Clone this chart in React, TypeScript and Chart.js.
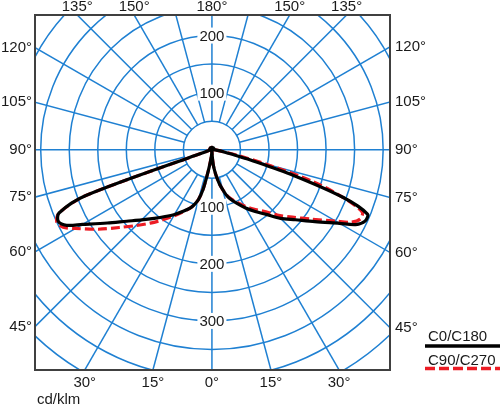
import React, { useEffect, useRef } from 'react';
import { Chart, registerables } from 'chart.js';

Chart.register(...registerables);

// Polar angles (gamma, degrees from nadir)
const ANGLES = [0, 2.5, 5, 7.5, 10, 12.5, 15, 17.5, 20, 25, 30, 35, 40, 45, 50, 55, 60, 62.5, 65, 67.5, 70, 72.5, 75, 77.5, 80, 85, 90, 105, 120, 135, 150, 165, 180];

// Luminous intensity, cd/klm
const C0 = [0, 10, 26, 38, 50, 62, 72, 83, 91, 104, 118, 132, 148, 170, 191, 220, 258, 284, 296, 295, 245, 150, 70, 35, 20, 8, 4, 4, 4, 4, 4, 4, 4];
const C180 = [0, 5, 12, 22, 40, 70, 90, 100, 108, 119, 131, 143, 157, 174, 195, 224, 262, 287, 297, 290, 235, 8, 5, 5, 4, 4, 4, 4, 4, 4, 4, 4, 4];
const C90 = [0, 10, 26, 38, 50, 62, 72, 82, 89, 101, 114, 127, 141, 162, 184, 212, 250, 275, 287, 285, 245, 185, 100, 45, 22, 8, 4, 4, 4, 4, 4, 4, 4];
const C270 = [0, 5, 12, 22, 40, 70, 90, 100, 108, 120, 134, 150, 168, 188, 212, 243, 276, 294, 300, 290, 235, 8, 5, 5, 4, 4, 4, 4, 4, 4, 4, 4, 4];

const RINGS = [50, 100, 150, 200, 250, 300, 350, 400, 450, 500, 550];
const SPOKE_STEP = 15;
const RADIAL_LABELS_UP = [100, 200];
const RADIAL_LABELS_DOWN = [100, 200, 300];
const SIDE_LABELS = [45, 60, 75, 90, 105, 120];
const TOP_LEFT_LABELS = [135, 150, 180];
const TOP_RIGHT_LABELS = [150, 135];
const BOTTOM_LEFT_LABELS = [30, 15, 0];
const BOTTOM_RIGHT_LABELS = [15, 30];
const X_MIN = -310;
const X_MAX = 312;
const Y_MIN = -386;
const Y_MAX = 236;
const LEGEND_LABELS = ['C0/C180', 'C90/C270'];
const UNIT_LABEL = 'cd/klm';

const GRID = '#1f80d2';
const RED = '#ec1c24';
const FONT = '15px "Liberation Sans", Arial, sans-serif';

const rad = (d: number) => (d * Math.PI) / 180;

function curve(left: number[], right: number[]) {
  const pts: { x: number; y: number }[] = [];
  for (let i = ANGLES.length - 1; i >= 0; i--) {
    const g = rad(ANGLES[i]);
    pts.push({ x: -left[i] * Math.sin(g), y: -left[i] * Math.cos(g) });
  }
  for (let i = 1; i < ANGLES.length; i++) {
    const g = rad(ANGLES[i]);
    pts.push({ x: right[i] * Math.sin(g), y: -right[i] * Math.cos(g) });
  }
  return pts;
}

const gridPlugin = {
  id: 'polarGrid',
  beforeDatasetsDraw(chart: any) {
    const { ctx, chartArea: a, scales } = chart;
    const xs = scales.x;
    const ys = scales.y;
    const px = (v: number) => xs.getPixelForValue(v);
    const py = (v: number) => ys.getPixelForValue(v);
    const cx = px(0);
    const cy = py(0);
    const unit = px(1) - px(0);
    ctx.save();
    ctx.beginPath();
    ctx.rect(a.left, a.top, a.right - a.left, a.bottom - a.top);
    ctx.clip();
    ctx.strokeStyle = GRID;
    ctx.lineWidth = 1.5;
    for (const r of RINGS) {
      ctx.beginPath();
      ctx.arc(cx, cy, r * unit, 0, Math.PI * 2);
      ctx.stroke();
    }
    const r0 = RINGS[0];
    const r1 = 800;
    for (let g = 0; g < 360; g += SPOKE_STEP) {
      if (g === 90 || g === 270) continue;
      const s = Math.sin(rad(g));
      const c = Math.cos(rad(g));
      ctx.beginPath();
      ctx.moveTo(px(r0 * s), py(-r0 * c));
      ctx.lineTo(px(r1 * s), py(-r1 * c));
      ctx.stroke();
    }
    ctx.beginPath();
    ctx.moveTo(a.left, cy);
    ctx.lineTo(a.right, cy);
    ctx.stroke();

    ctx.font = FONT;
    ctx.textAlign = 'center';
    ctx.textBaseline = 'middle';
    const lab = (v: number, yv: number) => {
      const t = String(v);
      const w = ctx.measureText(t).width + 4;
      const x0 = px(0);
      const y0 = py(yv);
      ctx.fillStyle = '#ffffff';
      ctx.fillRect(x0 - w / 2, y0 - 8, w, 16);
      ctx.fillStyle = '#1a1a1a';
      ctx.fillText(t, x0, y0 + 1);
    };
    RADIAL_LABELS_UP.forEach((v) => lab(v, v));
    RADIAL_LABELS_DOWN.forEach((v) => lab(v, -v));
    ctx.restore();
  },
  afterDraw(chart: any) {
    const { ctx, chartArea: a, scales } = chart;
    const xs = scales.x;
    const ys = scales.y;
    const px = (v: number) => xs.getPixelForValue(v);
    const py = (v: number) => ys.getPixelForValue(v);
    ctx.save();
    ctx.strokeStyle = '#404040';
    ctx.lineWidth = 2;
    ctx.strokeRect(a.left, a.top, a.right - a.left, a.bottom - a.top);

    ctx.font = FONT;
    ctx.fillStyle = '#1a1a1a';
    ctx.textBaseline = 'middle';
    SIDE_LABELS.forEach((g) => {
      const s = Math.sin(rad(g));
      const c = Math.cos(rad(g));
      const yl = py((X_MIN / s) * c);
      ctx.textAlign = 'right';
      ctx.fillText(g + '°', a.left - 3, yl);
      const yr = py((-X_MAX / s) * c);
      ctx.textAlign = 'left';
      ctx.fillText(g + '°', a.right + 5, yr);
    });
    ctx.textAlign = 'center';
    const topX = (g: number, side: number) => {
      const I = Y_MAX / -Math.cos(rad(g));
      return px(side * I * Math.sin(rad(g)));
    };
    const botX = (g: number, side: number) => {
      const I = Y_MIN / -Math.cos(rad(g));
      return px(side * I * Math.sin(rad(g)));
    };
    TOP_LEFT_LABELS.forEach((g) => ctx.fillText(g + '°', topX(g, -1), a.top - 8));
    TOP_RIGHT_LABELS.forEach((g) => ctx.fillText(g + '°', topX(g, 1), a.top - 8));
    BOTTOM_LEFT_LABELS.forEach((g) => ctx.fillText(g + '°', botX(g, -1), a.bottom + 13));
    BOTTOM_RIGHT_LABELS.forEach((g) => ctx.fillText(g + '°', botX(g, 1), a.bottom + 13));

    ctx.textAlign = 'left';
    ctx.fillText(UNIT_LABEL, a.left + 2, a.bottom + 30);

    const lx = a.right + 35;
    ctx.fillText(LEGEND_LABELS[0], lx + 3, a.bottom - 33);
    ctx.strokeStyle = '#000000';
    ctx.lineWidth = 3.5;
    ctx.beginPath();
    ctx.moveTo(lx, a.bottom - 24);
    ctx.lineTo(lx + 80, a.bottom - 24);
    ctx.stroke();
    ctx.fillText(LEGEND_LABELS[1], lx + 3, a.bottom - 9);
    ctx.strokeStyle = RED;
    ctx.setLineDash([10, 4]);
    ctx.beginPath();
    ctx.moveTo(lx, a.bottom - 1.5);
    ctx.lineTo(lx + 80, a.bottom - 1.5);
    ctx.stroke();
    ctx.restore();
  },
};

export default function App() {
  const ref = useRef<HTMLCanvasElement>(null);
  useEffect(() => {
    if (!ref.current) return;
    const chart = new Chart(ref.current, {
      type: 'scatter',
      data: {
        datasets: [
          {
            label: LEGEND_LABELS[0],
            data: curve(C180, C0),
            showLine: true,
            borderColor: '#000000',
            borderWidth: 3.2,
            borderJoinStyle: 'round',
            borderCapStyle: 'round',
            pointRadius: 0,
            tension: 0.3,
            fill: false,
          },
          {
            label: LEGEND_LABELS[1],
            data: curve(C270, C90),
            showLine: true,
            borderColor: RED,
            borderWidth: 3.2,
            borderDash: [9, 4],
            pointRadius: 0,
            tension: 0.3,
            fill: false,
          },
        ],
      } as any,
      options: {
        animation: false,
        responsive: false,
        layout: { padding: { left: 35, top: 15, right: 110, bottom: 36 } },
        plugins: { legend: { display: false }, tooltip: { enabled: false } },
        scales: {
          x: { type: 'linear', min: X_MIN, max: X_MAX, display: false },
          y: { type: 'linear', min: Y_MIN, max: Y_MAX, display: false },
        },
      },
      plugins: [gridPlugin],
    });
    return () => chart.destroy();
  }, []);
  return (
    <div style={{ position: 'absolute', left: 0, top: 0, width: 500, height: 406, background: '#fff' }}>
      <canvas ref={ref} width={500} height={406} style={{ display: 'block' }} />
    </div>
  );
}
